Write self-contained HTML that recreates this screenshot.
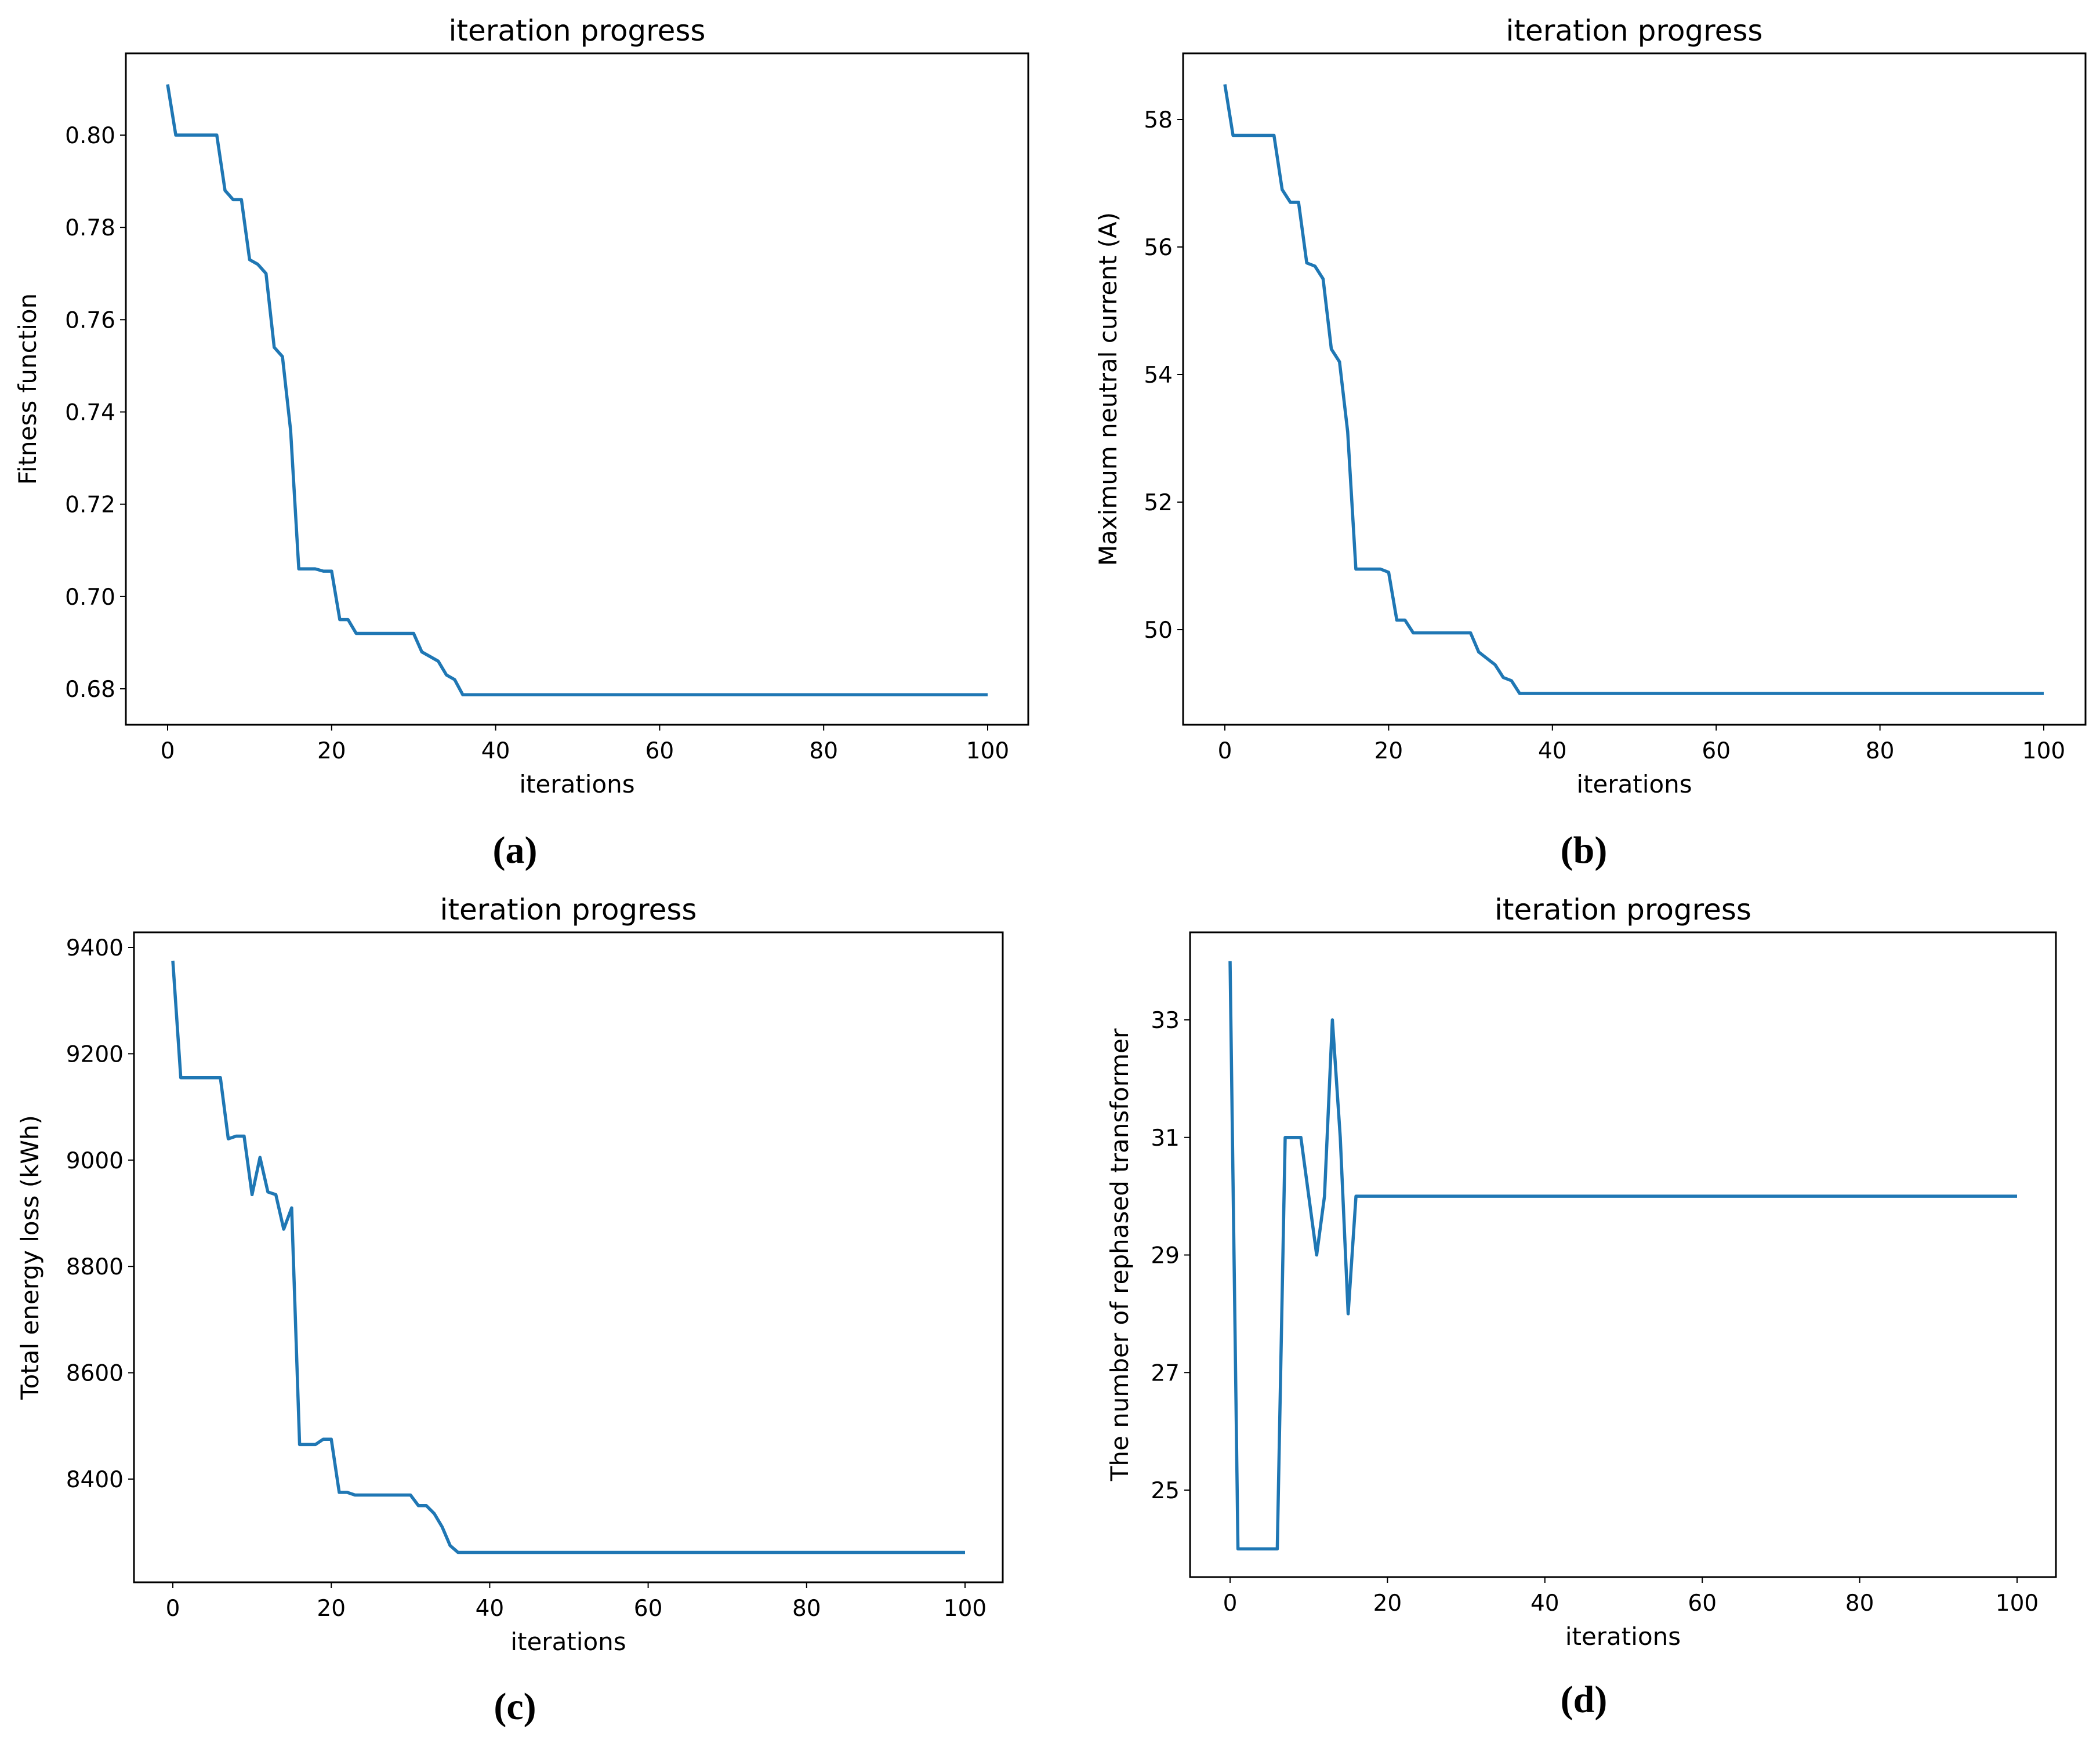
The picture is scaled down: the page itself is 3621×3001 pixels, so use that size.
<!DOCTYPE html>
<html><head><meta charset="utf-8">
<style>
html,body{margin:0;padding:0;background:#fff;}
svg{display:block;font-family:"DejaVu Sans","Liberation Sans",sans-serif;}
</style></head>
<body>
<svg id="fig" width="3621" height="3001" viewBox="0 0 3621 3001" xmlns="http://www.w3.org/2000/svg"></svg>
<script>
const iterations = Array.from({length:101},(_,i)=>i);
const fitnessHead = [0.811,0.800,0.800,0.800,0.800,0.800,0.800,0.788,0.786,0.786,0.773,0.772,0.770,0.754,0.752,0.736,0.706,0.706,0.706,0.7055,0.7055,0.695,0.695,0.692,0.692,0.692,0.692,0.692,0.692,0.692,0.692,0.688,0.687,0.686,0.683,0.682];
const fitnessTail = 0.6787;
const neutralHead = [58.55,57.75,57.75,57.75,57.75,57.75,57.75,56.9,56.7,56.7,55.75,55.7,55.5,54.4,54.2,53.1,50.95,50.95,50.95,50.95,50.9,50.15,50.15,49.95,49.95,49.95,49.95,49.95,49.95,49.95,49.95,49.65,49.55,49.45,49.25,49.2];
const neutralTail = 49.0;
const lossHead = [9375,9155,9155,9155,9155,9155,9155,9040,9045,9045,8935,9005,8940,8935,8870,8910,8465,8465,8465,8475,8475,8375,8375,8370,8370,8370,8370,8370,8370,8370,8370,8350,8350,8335,8310,8275];
const lossTail = 8262;
const rephasedHead = [34,24,24,24,24,24,24,31,31,31,30,29,30,33,31,28];
const rephasedTail = 30;
const xTicks = [0,20,40,60,80,100];
const yTicksA = [0.68,0.70,0.72,0.74,0.76,0.78,0.80];
const yTicksB = [50,52,54,56,58];
const yTicksC = [8400,8600,8800,9000,9200,9400];
const yTicksD = [25,27,29,31,33];

function full(head, tail){ return iterations.map(i => i < head.length ? head[i] : tail); }

const NS="http://www.w3.org/2000/svg";
const svg=document.getElementById('fig');
function el(tag, attrs, parent){ const e=document.createElementNS(NS,tag); for(const k in attrs) e.setAttribute(k,attrs[k]); (parent||svg).appendChild(e); return e; }

function panel(cfg){
  const g=el('g',{});
  
  
  const xs = v => cfg.x0 + (v-0)/(100-0)*(cfg.x100-cfg.x0);
  const ys = v => cfg.ya + (v-cfg.va)/(cfg.vb-cfg.va)*(cfg.yb-cfg.ya);
  const t=el('text',{x:(cfg.fl+cfg.fr)/2,y:cfg.ft-22,'text-anchor':'middle','font-size':50,fill:'#000'},g);
  t.textContent='iteration progress';
  
  
  const vals = full(cfg.head,cfg.tail);
  const d = vals.map((v,i)=>(i?'L':'M')+xs(iterations[i]).toFixed(1)+' '+ys(v).toFixed(1)).join(' ');
  const p=el('path',{d:d,fill:'none',stroke:'#1f77b4','stroke-width':5.5,'stroke-linejoin':'round'},g);
  
  
  const f=el('rect',{x:cfg.fl,y:cfg.ft,width:cfg.fr-cfg.fl,height:cfg.fb-cfg.ft,fill:'none',stroke:'#000','stroke-width':3},g);
  
  
  xTicks.forEach(v=>{
    const x=xs(v);
    el('line',{x1:x,x2:x,y1:cfg.fb,y2:cfg.fb+10,stroke:'#000','stroke-width':2},g);
    const tl=el('text',{x:x,y:cfg.fb+58,'text-anchor':'middle','font-size':39,fill:'#000'},g);
    tl.textContent=v;
    
    
  });
  cfg.yt.forEach(v=>{
    const y=ys(v);
    el('line',{x1:cfg.fl-10,x2:cfg.fl,y1:y,y2:y,stroke:'#000','stroke-width':2},g);
    const tl=el('text',{x:cfg.fl-18,y:y+14,'text-anchor':'end','font-size':39,fill:'#000'},g);
    tl.textContent=cfg.fmt(v);
    
    
  });
  const xl=el('text',{x:(cfg.fl+cfg.fr)/2,y:cfg.fb+117,'text-anchor':'middle','font-size':42,fill:'#000'},g);
  xl.textContent='iterations';
  
  
  const cy=(cfg.ft+cfg.fb)/2;
  const yl=el('text',{x:cfg.ylx,y:cy,'text-anchor':'middle','font-size':42,fill:'#000',transform:`rotate(-90 ${cfg.ylx} ${cy})`},g);
  yl.textContent=cfg.ylabel;
  
  
  const cap=el('text',{x:cfg.capx,y:cfg.capy,'text-anchor':'middle','font-size':66,'font-weight':'bold','font-family':'"Liberation Serif",serif',fill:'#000'},g);
  cap.textContent=cfg.cap;
  
  
}

panel({name:'panel-a',fl:217,fr:1773,ft:92,fb:1250,x0:289,x100:1703,va:0.80,ya:233,vb:0.68,yb:1188,
  head:fitnessHead,tail:fitnessTail,yt:yTicksA,fmt:v=>v.toFixed(2),ylabel:'Fitness function',ylx:62,cap:'(a)',capx:888,capy:1488});
panel({name:'panel-b',fl:2040,fr:3596,ft:92,fb:1250,x0:2112,x100:3524,va:58,ya:206,vb:50,yb:1086,
  head:neutralHead,tail:neutralTail,yt:yTicksB,fmt:v=>String(v),ylabel:'Maximum neutral current (A)',ylx:1925,cap:'(b)',capx:2731,capy:1488});
panel({name:'panel-c',fl:231,fr:1729,ft:1608,fb:2729,x0:298,x100:1664,va:9400,ya:1634,vb:8400,yb:2551,
  head:lossHead,tail:lossTail,yt:yTicksC,fmt:v=>String(v),ylabel:'Total energy loss (kWh)',ylx:66,cap:'(c)',capx:888,capy:2965});
panel({name:'panel-d',fl:2052,fr:3545,ft:1608,fb:2720,x0:2121,x100:3478,va:33,ya:1759,vb:25,yb:2570,
  head:rephasedHead,tail:rephasedTail,yt:yTicksD,fmt:v=>String(v),ylabel:'The number of rephased transformer',ylx:1945,cap:'(d)',capx:2731,capy:2953});
</script>
</body></html>
